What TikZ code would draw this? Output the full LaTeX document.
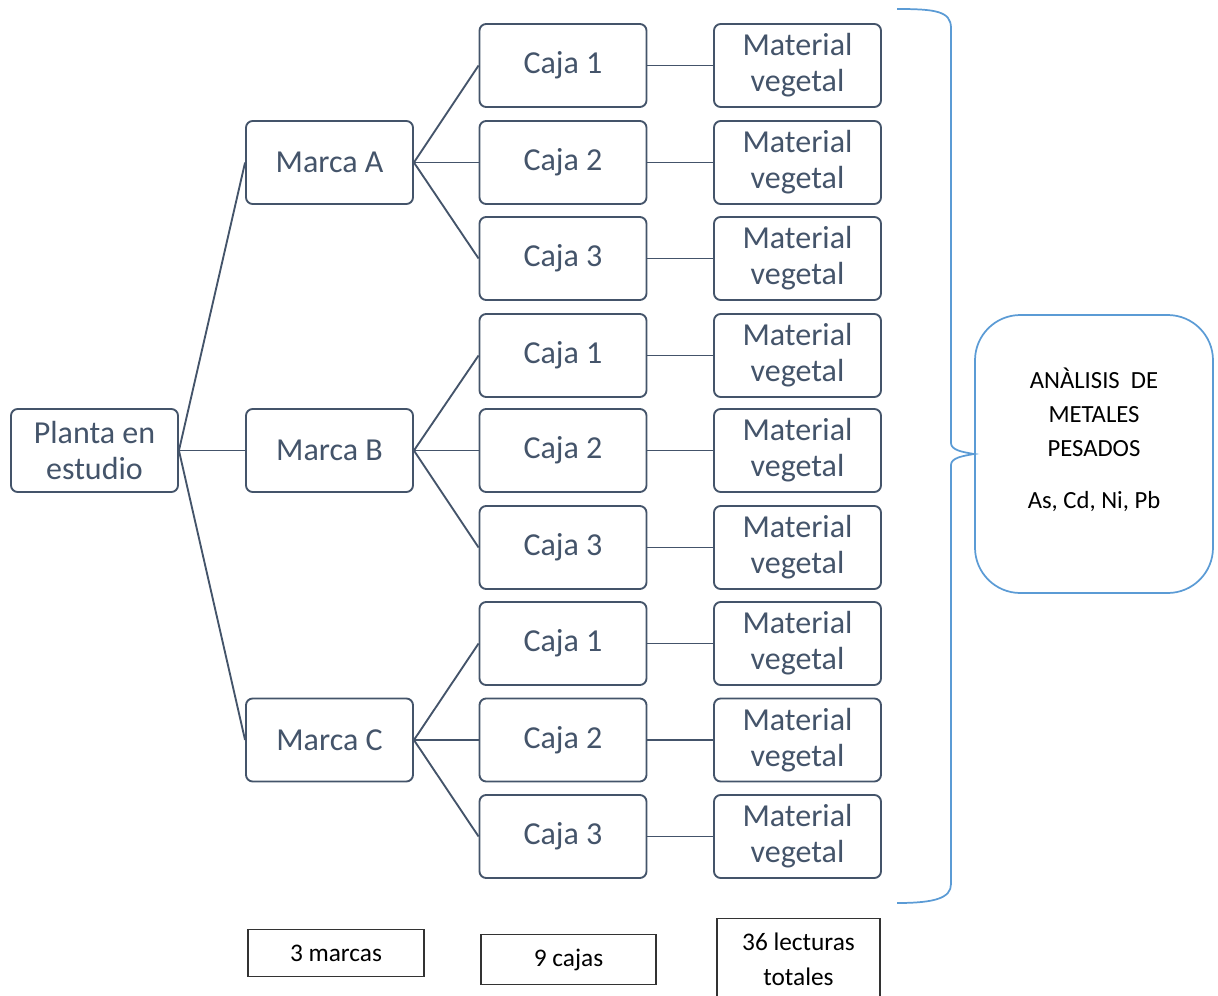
\documentclass[tikz,border=0pt]{standalone}
\usepackage{fontspec}
\setmainfont{Carlito}
\definecolor{slate}{HTML}{44546A}
\definecolor{bracec}{HTML}{5B9BD5}
\begin{document}
\begin{tikzpicture}[x=0.75pt,y=-0.75pt,
  box/.style={draw=slate, text=slate, line width=1.4pt, rounded corners=5pt,
    minimum width=125.25pt, minimum height=62.25pt, inner sep=0pt, align=center,
    font=\fontsize{24}{27}\selectfont},
  link/.style={draw=slate, line width=1.4pt},
  bracel/.style={draw=bracec, line width=1.3pt},
  sumbox/.style={draw=black!80, line width=1pt, inner sep=0pt, align=center,
    font=\fontsize{19}{26}\selectfont},
]
\useasboundingbox (0,0) rectangle (1218,996);

\node[box] (planta) at (94.5,450.5) {Planta en\\estudio};
\foreach \m/\y in {A/162.5,B/450.5,C/740}
  \node[box] (m\m) at (329.5,\y) {Marca \m};

\foreach \y [count=\i] in {65.5,162.5,258.5,355.5,450.5,547.5,643.5,740,836.5}{
  \pgfmathtruncatemacro\k{mod(\i-1,3)+1}
  \node[box] (c\i) at (563,\y) {Caja \k};
  \node[box] (v\i) at (797.5,\y) {Material\\vegetal};
  \draw[link] (c\i.east) -- (v\i.west);
}

\foreach \m in {A,B,C} \draw[link] (planta.east) -- (m\m.west);
\foreach \i in {1,2,3} \draw[link] (mA.east) -- (c\i.west);
\foreach \i in {4,5,6} \draw[link] (mB.east) -- (c\i.west);
\foreach \i in {7,8,9} \draw[link] (mC.east) -- (c\i.west);

\node[draw=bracec, line width=1.3pt, rounded corners=34pt,
  minimum width=178.5pt, minimum height=208.5pt] (anal) at (1094,454) {};
\node[align=center, font=\fontsize{18.5}{25.5}\selectfont] (atext) at (1094,440)
  {ANÀLISIS\ \ DE\\METALES\\PESADOS\\[13.5pt]As, Cd, Ni, Pb};

\coordinate (btop) at (897,9);
\coordinate (bbot) at (897,903);
\draw[bracel] (btop) .. controls (935,9) and (951,11) .. (951,28)
  -- (951,443) .. controls (951,450) and (962,452) .. (anal.west)
  .. controls (962,456) and (951,458) .. (951,465)
  -- (951,884) .. controls (951,898) and (935,903) .. (bbot);

\node[sumbox, minimum width=132pt, minimum height=35.25pt] (s1) at (336,953) {3 marcas};
\node[sumbox, minimum width=131.25pt, minimum height=37.5pt] (s2) at (568.5,959.5) {9 cajas};
\node[sumbox, minimum width=122.25pt, minimum height=61.5pt] (s3) at (798.5,959.5) {36 lecturas\\totales};
\end{tikzpicture}
\end{document}
